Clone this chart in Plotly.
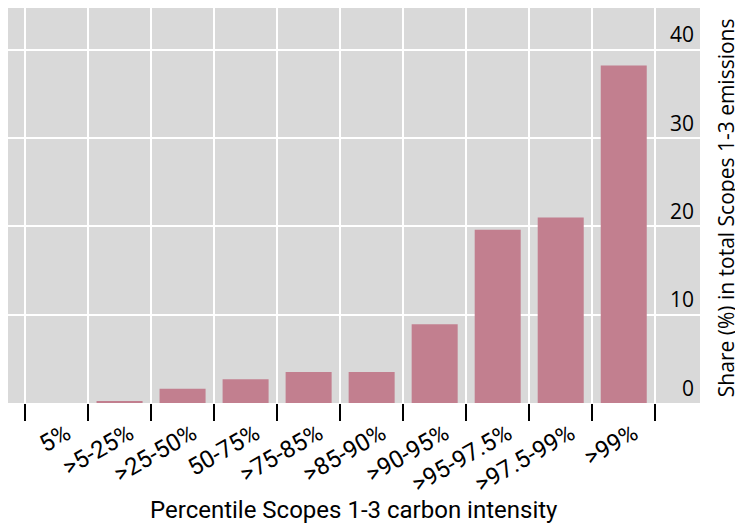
import plotly.graph_objects as go

# Share of Scopes 1-3 emissions per carbon-intensity percentile bucket
categories = ["5%", ">5-25%", ">25-50%", "50-75%", ">75-85%", ">85-90%",
              ">90-95%", ">95-97.5%", ">97.5-99%", ">99%"]
shares = [0.0, 0.2, 1.6, 2.7, 3.5, 3.5, 8.9, 19.6, 21.0, 38.2]
y_ticks = [0, 10, 20, 30, 40]

fig = go.Figure(
    go.Bar(
        x=categories,
        y=shares,
        marker=dict(color="#C27F8F", line=dict(width=0)),
        hovertemplate="%{x}: %{y}%<extra></extra>",
    )
)

# page body adds an 8px margin, so the figure is shrunk by that amount
fig.update_layout(
    width=735,
    height=519,
    margin=dict(l=0, r=43, t=0, b=124),
    plot_bgcolor="#D9D9D9",
    paper_bgcolor="white",
    bargap=0.27,
    showlegend=False,
    xaxis=dict(
        type="category",
        range=[-0.77, 10.21],
        automargin=False,
        tickson="boundaries",
        ticks="outside",
        ticklen=17,
        tickwidth=1.5,
        tickcolor="black",
        tickangle=-30,
        ticklabelshift=10,
        ticklabelstandoff=11,
        tickfont=dict(family="Roboto", size=24, color="black"),
        showgrid=True,
        gridcolor="white",
        gridwidth=2,
        showline=False,
        zeroline=False,
    ),
    yaxis=dict(
        side="right",
        range=[0, 44.7],
        automargin=False,
        tickvals=y_ticks,
        ticklabelposition="inside top",
        ticklabelstandoff=3,
        tickfont=dict(family="Open Sans", size=21, color="black"),
        showgrid=True,
        gridcolor="white",
        gridwidth=2,
        zeroline=False,
        showline=False,
        ticks="",
    ),
    annotations=[
        dict(text="Percentile Scopes 1-3 carbon intensity",
             xref="paper", yref="paper", x=0.5, y=-0.271,
             xanchor="center", yanchor="middle", showarrow=False,
             font=dict(family="Roboto", size=24, color="black")),
        dict(text="Share (%) in total Scopes 1-3 emissions",
             xref="paper", yref="paper", x=1.038, y=0.494,
             xanchor="center", yanchor="middle", showarrow=False,
             textangle=-90,
             font=dict(family="Open Sans", size=21, color="black")),
    ],
)

fig.write_html("out.html")
